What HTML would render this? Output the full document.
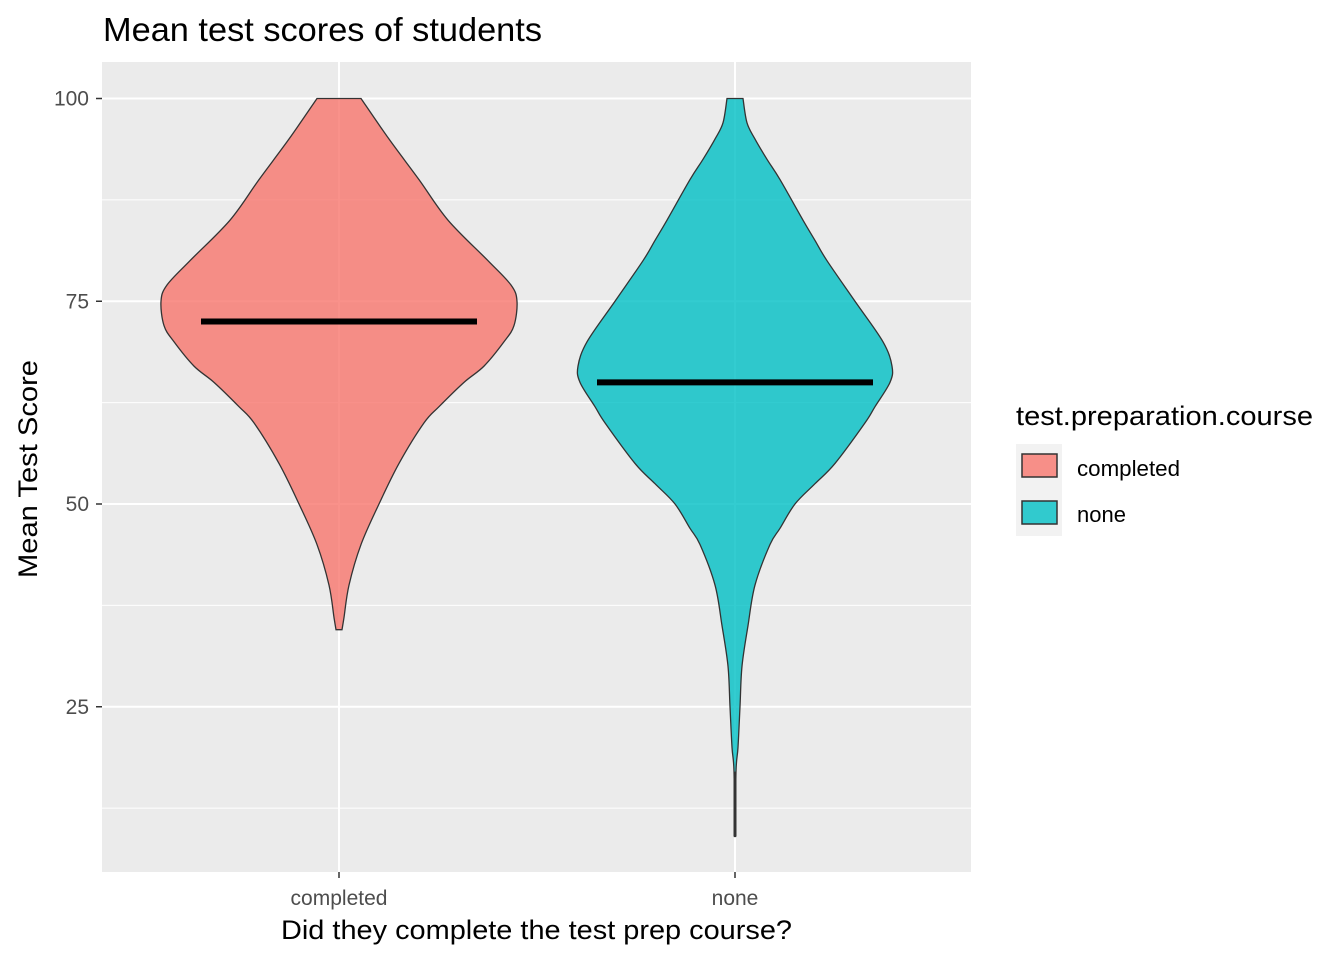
<!DOCTYPE html>
<html><head><meta charset="utf-8"><style>body{margin:0;background:#fff}svg{font-family:"Liberation Sans",Arial,sans-serif}</style></head>
<body>
<svg id="chart" width="1344" height="960">
<text x="103" y="41" font-size="33" fill="#000" textLength="439" lengthAdjust="spacingAndGlyphs">Mean test scores of students</text>
<rect x="102" y="62" width="869" height="810" fill="#EBEBEB"/>
<g id="grid"></g><g id="violins"></g><g id="axes"></g>
<text x="281" y="939" font-size="27" textLength="511" lengthAdjust="spacingAndGlyphs">Did they complete the test prep course?</text>
<text transform="translate(37,578) rotate(-90)" font-size="27" textLength="218" lengthAdjust="spacingAndGlyphs">Mean Test Score</text>
<g>
<text x="1016" y="425" font-size="27" textLength="297" lengthAdjust="spacingAndGlyphs">test.preparation.course</text>
<rect x="1016" y="444" width="46" height="92" fill="#F2F2F2"/>
<g><rect x="1022" y="454" width="35" height="23" fill="#F8766D" fill-opacity="0.8" stroke="#333" stroke-width="1.5"/><text x="1077" y="476" font-size="22" textLength="103" lengthAdjust="spacingAndGlyphs">completed</text></g>
<g><rect x="1022" y="501" width="35" height="23" fill="#00BFC4" fill-opacity="0.8" stroke="#333" stroke-width="1.5"/><text x="1077" y="522" font-size="22">none</text></g>
</g>
</svg>
<script>
const categories=["completed","none"];
const colors=["#F8766D","#00BFC4"];
const medians=[72.5,65];
const completedY=[100,95,90,85,80,77,75,72,70,67,65,62,60,55,50,45,40,36,34.5];
const completedW=[22,50,80,109,149,172,178,175,165,145,125,100,85,60,40,22,10,5,3];
const noneY=[100,97,95,92.5,90,85,82.5,80,75,70,67,65,62,60,55,52.5,50,47,45,40,35,30,25,20,17,9];
const noneW=[8,12,20,32,45,68,80,92,120,148,157,155,140,130,100,80,60,45,35,20,13,7,5,3,1,0.5];
const yTicks=[25,50,75,100];
const yMinor=[12.5,37.5,62.5,87.5];
const ns="http://www.w3.org/2000/svg";
const y=v=>504-(v-50)*8.11;
const x=i=>339+i*396;
function mk(t,a,p){const e=document.createElementNS(ns,t);for(const k in a)e.setAttribute(k,a[k]);p.appendChild(e);return e;}
const grid=document.getElementById('grid'),vg=document.getElementById('violins'),ax=document.getElementById('axes');
yMinor.forEach(v=>{const l=mk('line',{x1:102,x2:971,y1:y(v),y2:y(v),stroke:'#fff','stroke-width':1},grid);

});
yTicks.forEach(v=>{const l=mk('line',{x1:102,x2:971,y1:y(v),y2:y(v),stroke:'#fff','stroke-width':2},grid);


const t=mk('line',{x1:96,x2:102,y1:y(v),y2:y(v),stroke:'#333','stroke-width':1.5},ax);


const tx=mk('text',{x:89,y:y(v)+7,'font-size':21,fill:'#4D4D4D','text-anchor':'end'},ax);tx.textContent=v;

});
categories.forEach((c,i)=>{const l=mk('line',{x1:x(i),x2:x(i),y1:62,y2:872,stroke:'#fff','stroke-width':2},grid);


const t=mk('line',{x1:x(i),x2:x(i),y1:872,y2:878,stroke:'#333','stroke-width':1.5},ax);


const tx=mk('text',{x:x(i),y:905,'font-size':21,fill:'#4D4D4D','text-anchor':'middle'},ax);tx.textContent=c;

});
function smooth(pts){let d='M'+pts[0][0]+','+pts[0][1];
 for(let k=0;k<pts.length-1;k++){const p0=pts[Math.max(k-1,0)],p1=pts[k],p2=pts[k+1],p3=pts[Math.min(k+2,pts.length-1)];
 const c1=[p1[0]+(p2[0]-p0[0])/6,p1[1]+(p2[1]-p0[1])/6],c2=[p2[0]-(p3[0]-p1[0])/6,p2[1]-(p3[1]-p1[1])/6];
 d+=' C'+c1.join(',')+' '+c2.join(',')+' '+p2.join(',');}return d;}
[[completedY,completedW],[noneY,noneW]].forEach(([ys,ws],i)=>{
 const cx=x(i);const L=ys.map((v,k)=>[cx-ws[k],y(v)]);const R=ys.map((v,k)=>[cx+ws[k],y(v)]).reverse();
 const d=smooth(L)+' L'+R[0].join(',')+smooth(R).slice(smooth(R).indexOf(' C'))+' Z';
 const p=mk('path',{d:d,fill:colors[i],'fill-opacity':0.8,stroke:'#333','stroke-width':1.3},vg);
 
 
 const m=mk('line',{x1:cx-138,x2:cx+138,y1:y(medians[i]),y2:y(medians[i]),stroke:'#000','stroke-width':6},vg);
 
 
});
const tail=mk('line',{x1:x(1),x2:x(1),y1:y(17),y2:y(9),stroke:'#333','stroke-width':3},vg);


</script>
</body></html>
